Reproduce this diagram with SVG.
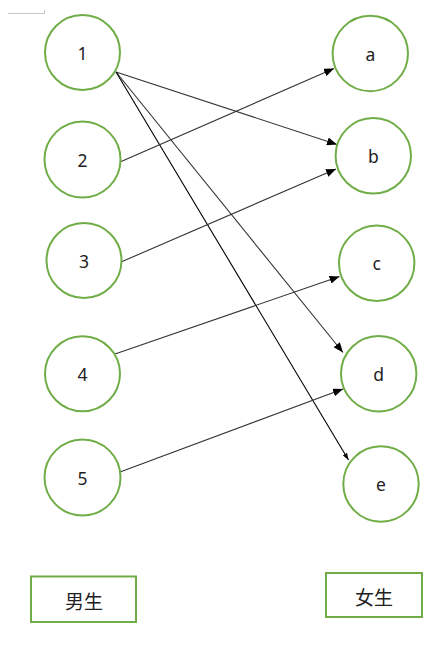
<svg xmlns="http://www.w3.org/2000/svg" width="448" height="645" viewBox="0 0 448 645">
<style>
.n circle,.n rect{fill:#fff;stroke:#70AD47;stroke-width:2}
.n text{font-family:"Noto Sans","Open Sans","Liberation Sans","Noto Sans CJK SC",sans-serif;font-size:17.5px;fill:#222;text-anchor:middle;dominant-baseline:central}
.n text.cjk{font-family:"Noto Sans CJK SC","Noto Sans CJK JP",sans-serif;font-size:19px}
.e line{stroke:#333;stroke-width:1.1}
</style>
<defs>
<marker id="ah" viewBox="0 0 10 8" refX="10" refY="4" markerWidth="10" markerHeight="8" markerUnits="userSpaceOnUse" orient="auto">
<path d="M0,0L10,4L0,8z" fill="#000"/>
</marker>
<marker id="ahs" viewBox="0 0 7 5" refX="7" refY="2.5" markerWidth="7" markerHeight="5" markerUnits="userSpaceOnUse" orient="auto">
<path d="M0,0L7,2.5L0,5z" fill="#000"/>
</marker>
</defs>
<rect width="448" height="645" fill="#fff"/>
<path d="M8,13.5H44.5V10" fill="none" stroke="#c8c8c8" stroke-width="1"/>
<g id="edges" class="e">
<line x1="116" y1="72" x2="337" y2="144.5" marker-end="url(#ah)"/>
<line x1="116" y1="72" x2="343" y2="352.5" marker-end="url(#ah)"/>
<line x1="116" y1="72" x2="348.5" y2="460" marker-end="url(#ahs)" style="stroke:#000"/>
<line x1="120" y1="162" x2="334" y2="68.5" marker-end="url(#ah)"/>
<line x1="121" y1="262" x2="336" y2="169" marker-end="url(#ah)"/>
<line x1="115" y1="354" x2="339.5" y2="276.5" marker-end="url(#ah)"/>
<line x1="120" y1="472" x2="343" y2="389" marker-end="url(#ah)"/>
</g>
<g id="n1" class="n"><circle cx="82.5" cy="52.5" r="37.5"/><text x="82.5" y="53">1</text></g>
<g id="n2" class="n"><circle cx="82.5" cy="159.5" r="38"/><text x="82.5" y="160">2</text></g>
<g id="n3" class="n"><circle cx="84" cy="260.5" r="37.5"/><text x="84" y="261">3</text></g>
<g id="n4" class="n"><circle cx="82.5" cy="373.7" r="37.5"/><text x="82.5" y="374.2">4</text></g>
<g id="n5" class="n"><circle cx="82.5" cy="477.5" r="38"/><text x="82.5" y="478">5</text></g>
<g id="na" class="n"><circle cx="370.3" cy="53.5" r="37.7"/><text x="370.3" y="53.5">a</text></g>
<g id="nb" class="n"><circle cx="373.3" cy="155.8" r="37.7"/><text x="373.3" y="155.8">b</text></g>
<g id="nc" class="n"><circle cx="376.7" cy="263.3" r="37.7"/><text x="376.7" y="263.3">c</text></g>
<g id="nd" class="n"><circle cx="378.7" cy="373.7" r="37.7"/><text x="378.7" y="373.7">d</text></g>
<g id="ne" class="n"><circle cx="381" cy="484" r="37.7"/><text x="381" y="484">e</text></g>
<g id="boy" class="n"><rect x="31" y="576.5" width="105" height="45.5"/><text class="cjk" x="84" y="600.5">男生</text></g>
<g id="girl" class="n"><rect x="326" y="573" width="96" height="44"/><text class="cjk" x="374" y="596">女生</text></g>
</svg>
